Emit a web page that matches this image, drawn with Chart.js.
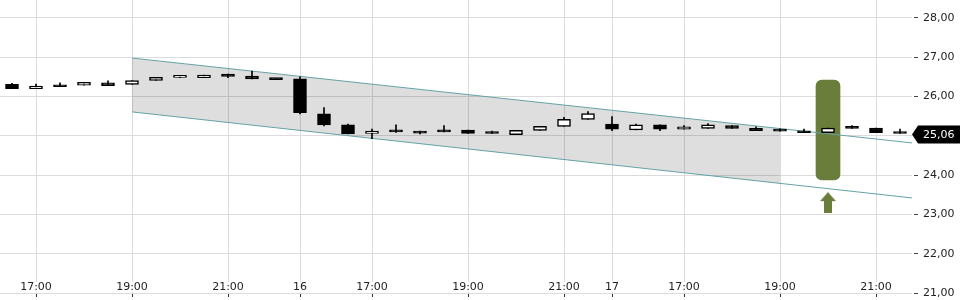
<!DOCTYPE html>
<html>
<head>
<meta charset="utf-8">
<script src="https://cdn.jsdelivr.net/npm/chart.js@4"></script>
<style>
  body { margin: 0; background: #fff; }
  #wrap { width: 960px; height: 300px; }
</style>
</head>
<body>
<div id="wrap"><canvas id="chart"></canvas></div>
<script>
// 30 min candles, index 0..37
const opens  = [26.31,26.20,26.30,26.29,26.35,26.31,26.41,26.49,26.48,26.57,26.52,26.45,26.45,25.56,25.28,25.06,25.15,25.12,25.15,25.15,25.10,25.03,25.14,25.24,25.42,25.30,25.15,25.28,25.17,25.19,25.26,25.19,25.15,25.12,25.08,25.20,25.20,25.10];
const highs  = [26.34,26.32,26.35,26.36,26.40,26.41,26.49,26.53,26.55,26.57,26.65,26.45,26.50,25.72,25.30,25.17,25.28,25.12,25.26,25.15,25.12,25.14,25.24,25.47,25.62,25.49,25.30,25.28,25.26,25.31,25.26,25.23,25.18,25.17,25.20,25.26,25.20,25.17];
const lows   = [26.20,26.20,26.25,26.29,26.28,26.31,26.41,26.48,26.48,26.48,26.45,26.43,25.56,25.25,25.05,24.93,25.09,25.05,25.10,25.06,25.06,25.03,25.14,25.24,25.42,25.13,25.15,25.13,25.17,25.19,25.19,25.13,25.12,25.08,25.08,25.19,25.08,25.06];
const closes = [26.20,26.27,26.25,26.36,26.28,26.41,26.49,26.50,26.55,26.51,26.45,26.43,25.59,25.28,25.05,25.12,25.10,25.07,25.10,25.06,25.06,25.14,25.24,25.42,25.57,25.17,25.28,25.17,25.23,25.28,25.19,25.13,25.12,25.08,25.20,25.19,25.08,25.06];

const xTickPos    = [1, 5, 9, 12, 15, 19, 23, 25, 28, 32, 36];
const xTickLabels = ['17:00','19:00','21:00','16','17:00','19:00','21:00','17','17:00','19:00','21:00'];
const yTicks      = [21, 22, 23, 24, 25, 26, 27, 28];

// trend channel
const channelX     = [5, 37.5];
const channelUpper = [26.98, 24.82];
const channelLower = [25.61, 23.42];
const shadeX       = [5, 32];
const shadeUpper   = [26.98, 25.19];
const shadeLower   = [25.61, 23.79];

const highlightX     = 34;
const highlightRange = [23.88, 26.42];
const arrowPoint     = [34, 23.30];
const lastPrice      = 25.06;

const green = '#6b7d3a';
const teal = '#65a3a6';

const idx = opens.map((_, i) => i);
const bodies = idx.map(i => ({ x: i, y: [opens[i], closes[i]] }));
const wicks = idx.map(i => ({ x: i, y: [lows[i], highs[i]] }));
const bodyColors = idx.map(i => closes[i] >= opens[i] ? '#fff' : '#000');
const pts = (xs, ys) => xs.map((x, i) => ({ x: x, y: ys[i] }));

// arrow marker image
const arrowImg = document.createElement('canvas');
arrowImg.width = 16;
arrowImg.height = 21;
const a = arrowImg.getContext('2d');
a.fillStyle = green;
a.beginPath();
a.moveTo(8, 0); a.lineTo(16, 9); a.lineTo(12, 9); a.lineTo(12, 21);
a.lineTo(4, 21); a.lineTo(4, 9); a.lineTo(0, 9);
a.closePath();
a.fill();

const labelStrip = {
  id: 'labelStrip',
  beforeDatasetsDraw(chart) {
    const { ctx, chartArea } = chart;
    ctx.save();
    ctx.fillStyle = '#fff';
    ctx.fillRect(chartArea.left, chartArea.bottom - 11, chartArea.right - chartArea.left, 10);
    ctx.restore();
  }
};

const priceTag = {
  id: 'priceTag',
  afterDraw(chart) {
    const { ctx, chartArea, scales } = chart;
    const y = scales.y.getPixelForValue(lastPrice) + 1;
    const x = chartArea.right;
    ctx.save();
    ctx.fillStyle = '#000';
    ctx.beginPath();
    ctx.moveTo(x, y);
    ctx.lineTo(x + 6, y - 9);
    ctx.lineTo(chart.width, y - 9);
    ctx.lineTo(chart.width, y + 9);
    ctx.lineTo(x + 6, y + 9);
    ctx.closePath();
    ctx.fill();
    ctx.fillStyle = '#fff';
    ctx.font = '11px "DejaVu Sans"';
    ctx.textBaseline = 'middle';
    ctx.fillText(lastPrice.toFixed(2).replace('.', ','), x + 11, y + 0.5);
    ctx.restore();
  }
};

Chart.defaults.font.family = '"DejaVu Sans", sans-serif';
Chart.defaults.font.size = 11;
Chart.defaults.color = '#222';

new Chart(document.getElementById('chart'), {
  type: 'bar',
  data: {
    datasets: [
      {
        type: 'line', data: pts(shadeX, shadeUpper), fill: '+1',
        backgroundColor: 'rgba(0,0,0,0.13)', borderColor: 'rgba(0,0,0,0)',
        borderWidth: 0, pointRadius: 0, order: 7
      },
      {
        type: 'line', data: pts(shadeX, shadeLower), fill: false,
        borderColor: 'rgba(0,0,0,0)', borderWidth: 0, pointRadius: 0, order: 7
      },
      {
        data: [{ x: highlightX, y: highlightRange }], grouped: false,
        backgroundColor: green, barThickness: 24, borderRadius: 6,
        borderSkipped: false, order: 5
      },
      {
        type: 'line', data: pts(channelX, channelUpper), borderColor: teal,
        borderWidth: 1, pointRadius: 0, fill: false, order: 4
      },
      {
        type: 'line', data: pts(channelX, channelLower), borderColor: teal,
        borderWidth: 1, pointRadius: 0, fill: false, order: 4
      },
      {
        type: 'scatter', data: [{ x: arrowPoint[0], y: arrowPoint[1] }],
        pointStyle: arrowImg, pointRadius: 5, order: 3
      },
      {
        data: wicks, grouped: false, backgroundColor: '#000',
        barThickness: 1, borderSkipped: false, order: 2
      },
      {
        data: bodies, grouped: false, backgroundColor: bodyColors,
        borderColor: '#000', borderWidth: 1.5, borderSkipped: false,
        barThickness: 13, minBarLength: 2, order: 1
      }
    ]
  },
  options: {
    responsive: true,
    maintainAspectRatio: false,
    animation: false,
    layout: { padding: 0, autoPadding: false },
    plugins: { legend: { display: false }, tooltip: { enabled: false } },
    scales: {
      x: {
        type: 'linear', position: 'bottom', min: -0.5, max: 37.5, offset: false,
        grid: { color: '#dcdcdc', tickColor: '#333', tickLength: 4, offset: false },
        border: { display: false },
        ticks: {
          mirror: true, padding: -1, z: 1, autoSkip: false, maxRotation: 0,
          callback: (v, i) => xTickLabels[i]
        },
        afterBuildTicks: s => { s.ticks = xTickPos.map(v => ({ value: v })); },
        afterFit: s => { s.height = 7; s.paddingLeft = 0; s.paddingRight = 0; }
      },
      y: {
        position: 'right', min: 21, max: 28.458,
        grid: {
          color: '#dcdcdc', tickColor: '#444', tickLength: 6,
          tickBorderDash: [0, 2, 4, 100]
        },
        border: { display: false },
        ticks: {
          padding: 5, color: '#222',
          callback: v => v.toFixed(2).replace('.', ',')
        },
        afterBuildTicks: s => { s.ticks = yTicks.map(v => ({ value: v })); },
        afterFit: s => { s.width = 48; s.paddingTop = 0; s.paddingBottom = 0; }
      }
    }
  },
  plugins: [labelStrip, priceTag]
});
</script>
</body>
</html>
